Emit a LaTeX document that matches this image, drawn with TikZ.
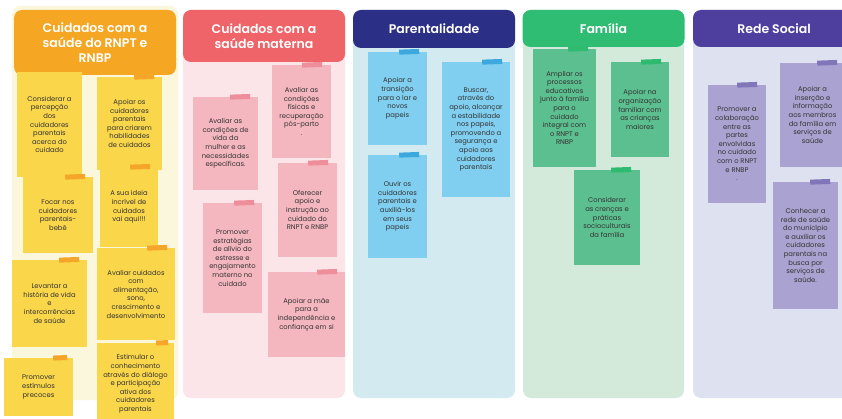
\documentclass[tikz,border=0pt]{standalone}
\usepackage{fontspec}
\setmainfont{Poppins}
\newfontfamily\headfont{Poppins}[UprightFont=* SemiBold]
\definecolor{yhead}{HTML}{F5A623}
\definecolor{ypanel}{HTML}{FBF7DC}
\definecolor{ynote}{HTML}{FAD64B}
\definecolor{ytape}{HTML}{F5A52A}
\definecolor{phead}{HTML}{EE6468}
\definecolor{ppanel}{HTML}{FBE5E8}
\definecolor{pnote}{HTML}{F5B7BF}
\definecolor{ptape}{HTML}{EE8E9B}
\definecolor{bhead}{HTML}{2C2F86}
\definecolor{bpanel}{HTML}{D3EBF0}
\definecolor{bnote}{HTML}{80CFF0}
\definecolor{btape}{HTML}{3DA8DD}
\definecolor{ghead}{HTML}{2FBC73}
\definecolor{gpanel}{HTML}{D3EADB}
\definecolor{gnote}{HTML}{5CBF8F}
\definecolor{gtape}{HTML}{2EBB70}
\definecolor{rhead}{HTML}{4E3E9E}
\definecolor{rpanel}{HTML}{DEE1F0}
\definecolor{rnote}{HTML}{AAA2D0}
\definecolor{rtape}{HTML}{8076B9}
\definecolor{notetext}{HTML}{333333}
\tikzset{
  colpanel/.style={fill=#1, rounded corners=8pt},
  colhead/.style={fill=#1, rounded corners=8pt, text=white, align=center,
    inner sep=0pt, minimum width=162pt, font=\headfont\fontsize{12.5}{15}\selectfont},
  sticky/.style={fill=#1, text=notetext, align=center, inner sep=0pt,
    font=\fontsize{6.8}{8.6}\selectfont},
  strip/.style={fill=#1, minimum width=20pt, minimum height=5pt, inner sep=0pt, rotate=2}
}
\begin{document}
\begin{tikzpicture}[x=1pt,y=-1pt]
  \useasboundingbox (0,0) rectangle (842,419);
  \clip (0,0) rectangle (842,419);
  \fill[white] (0,0) rectangle (842,419);
  % columns
  \fill[colpanel=ypanel] (12,6) rectangle (178,400);
  \fill[colpanel=ppanel] (183,10) rectangle (345,398);
  \fill[colpanel=bpanel] (353,10) rectangle (515,398);
  \fill[colpanel=gpanel] (523,10) rectangle (684,398);
  \fill[colpanel=rpanel] (693,10) rectangle (855,398);
  \node[colhead=yhead, minimum height=65] (h1) at (95,42.5) {Cuidados com a\\saúde do RNPT e\\RNBP};
  \node[colhead=phead, minimum height=52] (h2) at (264,36) {Cuidados com a\\saúde materna};
  \node[colhead=bhead, minimum height=38] (h3) at (434,29) {Parentalidade};
  \node[colhead=ghead, minimum height=37] (h4) at (603.5,28.5) {Família};
  \node[colhead=rhead, minimum height=37] (h5) at (774,28.5) {Rede Social};
  % saude do RNPT e RNBP
  \node[sticky=ynote, minimum width=65, minimum height=105] (n1) at (49.5,124.5)
    {Considerar a\\percepção\\dos\\cuidadores\\parentais\\acerca do\\cuidado};
  \node[sticky=ynote, minimum width=65, minimum height=93] (n2) at (129.5,123.5)
    {Apoiar os\\cuidadores\\parentais\\para criarem\\habilidades\\de cuidados};
  \node[strip=ytape] (t2) at ([xshift=-18]n2.north east) {};
  \node[sticky=ynote, minimum width=70, minimum height=76] (n3) at (58,215)
    {Focar nos\\cuidadores\\parentais-\\bebê};
  \node[strip=ytape] (t3) at ([xshift=-18]n3.north east) {};
  \node[sticky=ynote, minimum width=58, minimum height=80] (n4) at (129,207)
    {A sua ideia\\incrível de\\cuidados\\vai aqui!!!};
  \node[strip=ytape] (t4) at ([xshift=-18]n4.north east) {};
  \node[sticky=ynote, minimum width=75, minimum height=87] (n5) at (49.5,303.5)
    {Levantar a\\história de vida\\e\\intercorrências\\de saúde};
  \node[strip=ytape] (t5) at ([xshift=-18]n5.north east) {};
  \node[sticky=ynote, minimum width=78, minimum height=92] (n6) at (136,294)
    {Avaliar cuidados\\com\\alimentação,\\sono,\\crescimento e\\desenvolvimento};
  \node[strip=ytape] (t6) at ([xshift=-18]n6.north east) {};
  \node[sticky=ynote, minimum width=69, minimum height=58] (n7) at (38.5,387)
    {Promover\\estímulos\\precoces};
  \node[strip=ytape, minimum width=14] (t7) at ([xshift=-13]n7.north east) {};
  \node[sticky=ynote, minimum width=77, minimum height=82] (n8) at (135.5,384)
    {Estimular o\\conhecimento\\através do diálogo\\e participação\\ativa dos\\cuidadores\\parentais};
  \node[strip=ytape, minimum width=12] (t8) at ([xshift=-12]n8.north east) {};
  % saude materna
  \node[sticky=pnote, minimum width=65, minimum height=93] (p1) at (225.5,143.5)
    {Avaliar as\\condições de\\vida da\\mulher e as\\necessidades\\específicas.};
  \node[strip=ptape] (u1) at ([xshift=-18]p1.north east) {};
  \node[sticky=pnote, minimum width=59, minimum height=93] (p2) at (301.5,111.5)
    {Avaliar as\\condições\\físicas e\\recuperação\\pós-parto\\.};
  \node[strip=ptape] (u2) at ([xshift=-19]p2.north east) {};
  \node[sticky=pnote, minimum width=59, minimum height=94] (p3) at (307.5,210)
    {Oferecer\\apoio e\\instrução ao\\cuidado do\\RNPT e RNBP};
  \node[strip=ptape] (u3) at ([xshift=-19]p3.north east) {};
  \node[sticky=pnote, minimum width=59, minimum height=110] (p4) at (232.5,258)
    {Promover\\estratégias\\de alívio do\\estresse e\\engajamento\\materno no\\cuidado};
  \node[strip=ptape] (u4) at ([xshift=-18]p4.north east) {};
  \node[sticky=pnote, minimum width=77, minimum height=85] (p5) at (306.5,314.5)
    {Apoiar a mãe\\para a\\independência e\\confiança em si};
  \node[strip=ptape] (u5) at ([xshift=-18]p5.north east) {};
  % parentalidade
  \node[sticky=bnote, minimum width=59, minimum height=93] (b1) at (397.5,98.5)
    {Apoiar a\\transição\\para o lar e\\novos\\papeis};
  \node[strip=btape] (v1) at ([xshift=-18]b1.north east) {};
  \node[sticky=bnote, minimum width=68, minimum height=135] (b2) at (476,129.5)
    {Buscar,\\através do\\apoio, alcançar\\a estabilidade\\nos papeis,\\promovendo a\\segurança e\\apoio aos\\cuidadores\\parentais};
  \node[strip=btape] (v2) at ([xshift=-18]b2.north east) {};
  \node[sticky=bnote, minimum width=59, minimum height=103] (b3) at (397.5,206.5)
    {Ouvir os\\cuidadores\\parentais e\\auxiliá-los\\em seus\\papeis};
  \node[strip=btape] (v3) at ([xshift=-18]b3.north east) {};
  % familia
  \node[sticky=gnote, minimum width=63, minimum height=118] (g1) at (564.5,108)
    {Ampliar os\\processos\\educativos\\junto à família\\para o\\cuidado\\integral com\\o RNPT e\\RNBP};
  \node[strip=gtape] (w1) at ([xshift=-18]g1.north east) {};
  \node[sticky=gnote, minimum width=58, minimum height=95] (g2) at (640,109.5)
    {Apoiar na\\organização\\familiar com\\as crianças\\maiores};
  \node[strip=gtape] (w2) at ([xshift=-18]g2.north east) {};
  \node[sticky=gnote, minimum width=66, minimum height=95] (g3) at (607,217.5)
    {Considerar\\as crenças e\\práticas\\socioculturais\\da família};
  \node[strip=gtape] (w3) at ([xshift=-19]g3.north east) {};
  % rede social
  \node[sticky=rnote, minimum width=58, minimum height=118] (r1) at (737,144)
    {Promover a\\colaboração\\entre as\\partes\\envolvidas\\no cuidado\\com o RNPT\\e RNBP\\.};
  \node[strip=rtape] (s1) at ([xshift=-19]r1.north east) {};
  \node[sticky=rnote, minimum width=65, minimum height=104] (r2) at (812.5,115)
    {Apoiar a\\inserção e\\informação\\aos membros\\da família em\\serviços de\\saúde};
  \node[strip=rtape] (s2) at ([xshift=-18]r2.north east) {};
  \node[sticky=rnote, minimum width=65, minimum height=127] (r3) at (805.5,245.5)
    {Conhecer a\\rede de saúde\\do município\\e auxiliar os\\cuidadores\\parentais na\\busca por\\serviços de\\saúde.};
  \node[strip=rtape] (s3) at ([xshift=-18]r3.north east) {};
\end{tikzpicture}
\end{document}
